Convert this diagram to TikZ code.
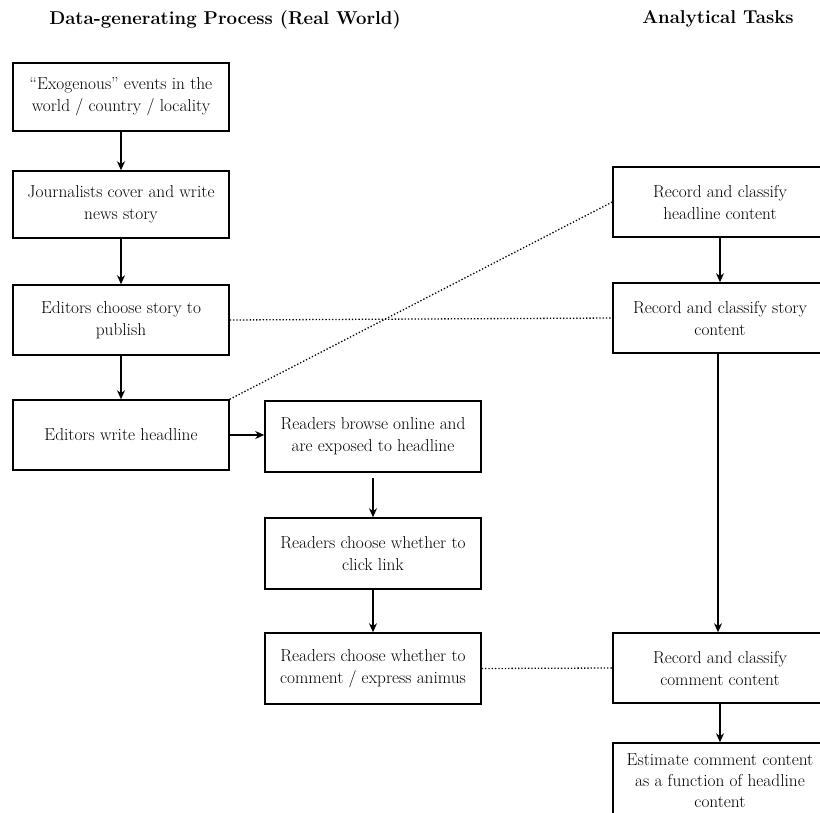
\documentclass[tikz,border=0pt]{standalone}
\usetikzlibrary{arrows.meta}
\begin{document}
\begin{tikzpicture}[x=1pt,y=-1pt,
  box/.style={draw, line width=1.5pt, minimum width=216pt, minimum height=70pt, align=center, inner sep=0pt, font=\fontsize{17.3}{22}\selectfont},
  rbox/.style={box, minimum width=214pt},
  title/.style={font=\fontsize{18.6}{22}\selectfont\bfseries},
  arr/.style={line width=1.5pt, -{Stealth[length=9pt,width=8pt]}},
  dot/.style={line width=1.3pt, dotted}]
\useasboundingbox (0,0) rectangle (820,812);
\node[title] (t1) at (225,20) {Data-generating Process (Real World)};
\node[title] (t2) at (718,19) {Analytical Tasks};

\node[box, minimum height=68pt] (b1) at (121,97) {``Exogenous'' events in the\\world / country / locality};
\node[box, minimum height=67pt] (b2) at (121,204.5) {Journalists cover and write\\news story};
\node[box] (b3) at (121,320) {Editors choose story to\\publish};
\node[box] (b4) at (121,435) {Editors write headline};

\node[box, minimum height=71pt] (m1) at (373,436.5) {Readers browse online and\\are exposed to headline};
\node[box, minimum height=71pt] (m2) at (373,553.5) {Readers choose whether to\\click link};
\node[box, minimum height=71pt] (m3) at (373,668.5) {Readers choose whether to\\comment / express animus};

\node[rbox] (r1) at (720,202) {Record and classify\\headline content};
\node[rbox] (r2) at (720,318) {Record and classify story\\content};
\node[rbox] (r3) at (720,668) {Record and classify\\comment content};
\node[rbox, minimum height=76pt, font=\fontsize{17.3}{21}\selectfont] (r4) at (720,781) {Estimate comment content\\as a function of headline\\content};

\draw[arr] (b1) -- (b2);
\draw[arr] (b2) -- (b3);
\draw[arr] (b3) -- (b4);
\draw[arr] (b4.east) -- (b4.east -| m1.west);
\draw[arr, shorten <=5pt] (m1) -- (m2);
\draw[arr] (m2) -- (m3);
\draw[arr] (r1) -- (r2);
\draw[arr] ([xshift=-2pt]r2.south) -- ([xshift=-2pt]r3.north);
\draw[arr] (r3) -- (r4);

\draw[dot] (b3.east) -- (r2.west);
\draw[dot] (b4.north east) -- (r1.west);
\draw[dot] (m3.east) -- (r3.west);
\end{tikzpicture}
\end{document}
